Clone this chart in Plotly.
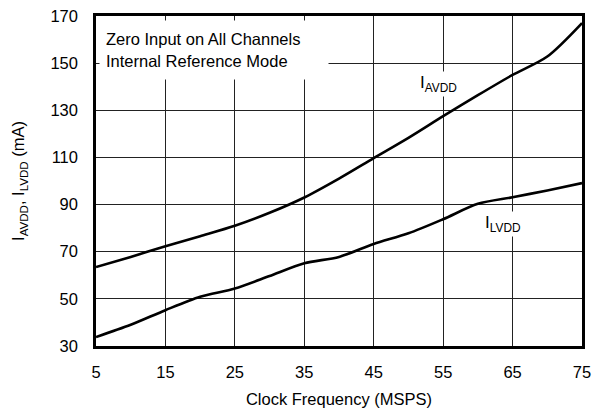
import plotly.graph_objects as go

# Supply current vs. clock frequency
clock_msps = [5, 10, 15, 20, 25, 30, 35, 40, 45, 50, 55, 60, 65, 70, 75]
i_avdd = [63.5, 67.8, 72.3, 76.6, 81.0, 86.5, 93.0, 101.0, 109.7, 118.3, 127.5, 136.4, 145.0, 152.8, 167.0]
i_lvdd = [33.8, 39.0, 45.2, 50.9, 54.4, 59.7, 65.1, 67.8, 73.3, 77.8, 83.8, 90.3, 93.1, 96.0, 99.1]

x_ticks = [5, 15, 25, 35, 45, 55, 65, 75]
y_ticks = [30, 50, 70, 90, 110, 130, 150, 170]

FONT = "Liberation Sans, Arial, Helvetica, sans-serif"
FS = 16.5

fig = go.Figure()
for ys in (i_avdd, i_lvdd):
    fig.add_trace(go.Scatter(
        x=clock_msps, y=ys, mode="lines",
        line=dict(color="black", width=2.6, shape="spline", smoothing=0.8),
        showlegend=False, hoverinfo="skip",
    ))

axis_common = dict(
    showline=True, linecolor="black", linewidth=2.5, mirror=True,
    showgrid=True, gridcolor="#222222", gridwidth=1, automargin=False,
    zeroline=False, ticks="", tickfont=dict(family=FONT, size=FS, color="black"),
)

fig.update_layout(
    width=595, height=408,
    margin=dict(l=96, r=13, t=16, b=62),
    paper_bgcolor="white", plot_bgcolor="white",
    font=dict(family=FONT, color="black"),
    xaxis=dict(
        range=[5, 75], tickvals=x_ticks, ticktext=[str(v) for v in x_ticks],
        ticklabelstandoff=9,
        title=dict(text="Clock Frequency (MSPS)", font=dict(family=FONT, size=FS), standoff=16),
        **axis_common,
    ),
    yaxis=dict(
        range=[30, 170], tickvals=y_ticks, ticktext=[str(v) for v in y_ticks],
        ticklabelstandoff=12,
        title=dict(text="I<sub>AVDD</sub>, I<sub>LVDD</sub> (mA)", font=dict(family=FONT, size=FS), standoff=22),
        **axis_common,
    ),
)

# Test-condition note in the upper-left corner
fig.add_annotation(
    xref="x", yref="y", x=5.5, y=168.2, xanchor="left", yanchor="top",
    text="Zero Input on All Channels<br>Internal Reference Mode",
    align="left", showarrow=False, bgcolor="white",
    width=216, height=46, borderpad=6, valign="middle",
    font=dict(family=FONT, size=FS, color="black"),
)

# Curve labels
fig.add_annotation(
    xref="x", yref="y", x=54.3, y=141.0, text="I<sub>AVDD</sub>",
    showarrow=False, bgcolor="white", borderpad=1,
    font=dict(family=FONT, size=17, color="black"),
)
fig.add_annotation(
    xref="x", yref="y", x=63.6, y=81.8, text="I<sub>LVDD</sub>",
    showarrow=False, bgcolor="white", borderpad=1,
    font=dict(family=FONT, size=17, color="black"),
)

fig.write_html("out.html")
